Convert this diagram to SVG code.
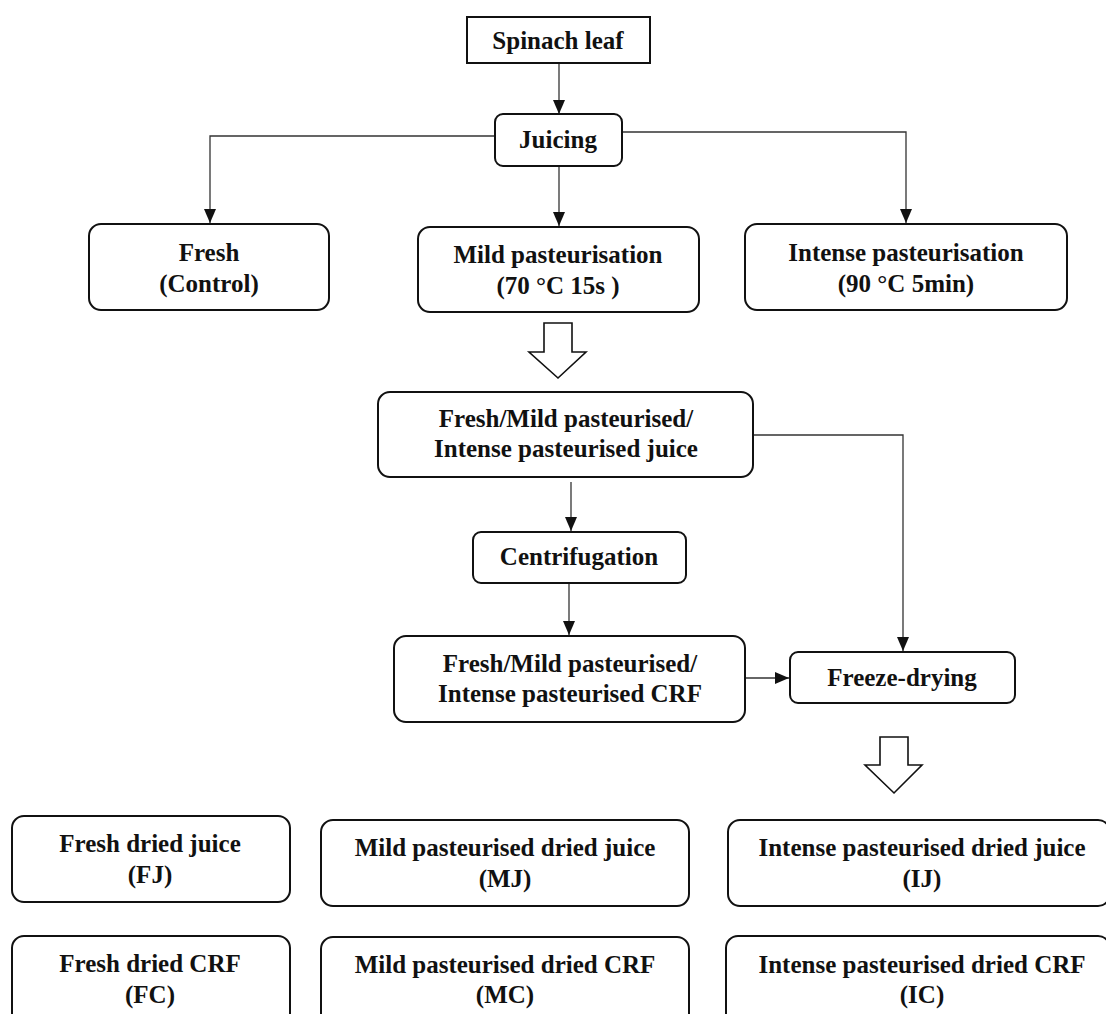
<svg xmlns="http://www.w3.org/2000/svg" width="1106" height="1014" viewBox="0 0 1106 1014">
<defs>
<style>
.box{fill:#fff;stroke:#111;stroke-width:2}
.t{font-family:"Liberation Serif","Times New Roman",serif;font-weight:bold;font-size:25px;fill:#111;text-anchor:middle}
.c{fill:none;stroke:#333;stroke-width:1.3}
.blk{fill:#fff;stroke:#111;stroke-width:1.6;stroke-linejoin:miter}
</style>
<marker id="ah" markerWidth="14" markerHeight="12" refX="14" refY="6" orient="auto" markerUnits="userSpaceOnUse">
<path d="M0,0 L14,6 L0,12 Z" fill="#111"/>
</marker>
</defs>
<rect width="1106" height="1014" fill="#fff"/>
<g id="connectors">
<path class="c" d="M559,63 V114" marker-end="url(#ah)"/>
<path class="c" d="M495,136 H210 V223" marker-end="url(#ah)"/>
<path class="c" d="M622,132 H906 V223" marker-end="url(#ah)"/>
<path class="c" d="M559,166 V226" marker-end="url(#ah)"/>
<path class="c" d="M753,435 H903 V651" marker-end="url(#ah)"/>
<path class="c" d="M571,482 V531" marker-end="url(#ah)"/>
<path class="c" d="M569,583 V635" marker-end="url(#ah)"/>
<path class="c" d="M745,678 H789" marker-end="url(#ah)"/>
<polygon class="blk" points="544,323 572,323 572,352 586,352 558,378 529,352 544,352"/>
<polygon class="blk" points="880,737 908,737 908,765 922,765 894,793 865,765 880,765"/>
</g>
<g id="spinach">
<rect class="box" x="467" y="17" width="183" height="46"/>
<text class="t" x="558" y="49">Spinach leaf</text>
</g>
<g id="juicing">
<rect class="box" x="495" y="114" width="127" height="52" rx="8"/>
<text class="t" x="558" y="148">Juicing</text>
</g>
<g id="fresh">
<rect class="box" x="89" y="224" width="240" height="86" rx="12"/>
<text class="t" x="209" y="261">Fresh</text>
<text class="t" x="209" y="292">(Control)</text>
</g>
<g id="mild">
<rect class="box" x="418" y="227" width="281" height="85" rx="12"/>
<text class="t" x="558" y="263">Mild pasteurisation</text>
<text class="t" x="558" y="294">(70 °C 15s )</text>
</g>
<g id="intense">
<rect class="box" x="745" y="224" width="322" height="86" rx="12"/>
<text class="t" x="906" y="261">Intense pasteurisation</text>
<text class="t" x="906" y="292">(90 °C 5min)</text>
</g>
<g id="juice">
<rect class="box" x="378" y="392" width="375" height="85" rx="12"/>
<text class="t" x="566" y="427">Fresh/Mild pasteurised/</text>
<text class="t" x="566" y="457">Intense pasteurised juice</text>
</g>
<g id="centrifugation">
<rect class="box" x="473" y="532" width="213" height="51" rx="8"/>
<text class="t" x="579" y="565">Centrifugation</text>
</g>
<g id="crf">
<rect class="box" x="394" y="636" width="351" height="86" rx="12"/>
<text class="t" x="570" y="672">Fresh/Mild pasteurised/</text>
<text class="t" x="570" y="702">Intense pasteurised CRF</text>
</g>
<g id="freeze">
<rect class="box" x="790" y="652" width="225" height="51" rx="8"/>
<text class="t" x="902" y="686">Freeze-drying</text>
</g>
<g id="fj">
<rect class="box" x="12" y="816" width="278" height="86" rx="12"/>
<text class="t" x="150" y="852">Fresh dried juice</text>
<text class="t" x="150" y="883">(FJ)</text>
</g>
<g id="mj">
<rect class="box" x="321" y="820" width="368" height="86" rx="12"/>
<text class="t" x="505" y="856">Mild pasteurised dried juice</text>
<text class="t" x="505" y="887">(MJ)</text>
</g>
<g id="ij">
<rect class="box" x="728" y="820" width="382" height="86" rx="12"/>
<text class="t" x="922" y="856">Intense pasteurised dried juice</text>
<text class="t" x="922" y="887">(IJ)</text>
</g>
<g id="fc">
<rect class="box" x="12" y="936" width="278" height="92" rx="12"/>
<text class="t" x="150" y="972">Fresh dried CRF</text>
<text class="t" x="150" y="1003">(FC)</text>
</g>
<g id="mc">
<rect class="box" x="321" y="937" width="368" height="92" rx="12"/>
<text class="t" x="505" y="973">Mild pasteurised dried CRF</text>
<text class="t" x="505" y="1003">(MC)</text>
</g>
<g id="ic">
<rect class="box" x="726" y="936" width="384" height="92" rx="12"/>
<text class="t" x="922" y="973">Intense pasteurised dried CRF</text>
<text class="t" x="922" y="1003">(IC)</text>
</g>
</svg>
